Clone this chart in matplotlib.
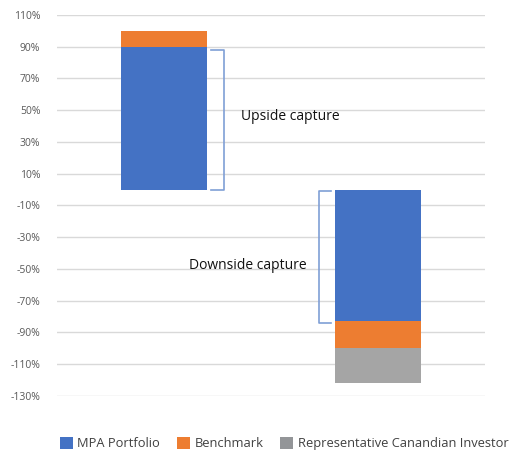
import numpy as np
import matplotlib
matplotlib.use("Agg")
import matplotlib.pyplot as plt
from matplotlib.patches import Patch

plt.rcParams['font.family'] = ['Open Sans', 'DejaVu Sans']

categories = ["Upside", "Downside"]
mpa = [90, -83]
benchmark = [100, -100]
rep_investor = [np.nan, -122]
series_names = ["MPA Portfolio", "Benchmark", "Representative Canandian Investor"]
colors = ["#4472C4", "#ED7D31", "#A5A5A5"]
yticks = list(range(-130, 111, 20))

fig = plt.figure(figsize=(5.11, 4.5), dpi=100)
ax = fig.add_axes([0.1115, 0.12, 0.8376, 0.8467])

x = np.arange(len(categories))
w = 0.40
ax.bar(x, rep_investor, w, color=colors[2], zorder=2)
ax.bar(x, benchmark, w, color=colors[1], zorder=3)
ax.bar(x, mpa, w, color=colors[0], zorder=4)

ax.set_xlim(-0.5, 1.5)
ax.set_ylim(-130, 110)
ax.set_yticks(yticks)
ax.set_yticklabels([f"{t}%" for t in yticks], color="#595959", fontsize=7.5)
ax.tick_params(axis='y', length=0, pad=12)
ax.set_xticks([])
for s in ax.spines.values():
    s.set_visible(False)
ax.grid(axis='y', color="#D9D9D9", linewidth=1, zorder=0)

bc = "#7F9FD6"
# Upside bracket
ax.plot([0.22, 0.28, 0.28, 0.22], [88, 88, 0, 0], color=bc, lw=1.2, zorder=5)
ax.text(0.36, 46, "Upside capture", fontsize=10, va='center', ha='left', color="#111111")
# Downside bracket
ax.plot([0.78, 0.724, 0.724, 0.78], [-1, -1, -84, -84], color=bc, lw=1.2, zorder=5)
ax.text(0.665, -48, "Downside capture", fontsize=10, va='center', ha='right', color="#111111")

handles = [Patch(facecolor=c, edgecolor='none') for c in [colors[0], colors[1], "#939598"]]
fig.legend(handles, series_names, loc='lower left', bbox_to_anchor=(58 / 511, -0.005),
           ncol=3, frameon=False, fontsize=9.3, handlelength=1.0, handleheight=1.0,
           columnspacing=1.3, handletextpad=0.35, borderpad=0.15, borderaxespad=0,
           labelcolor="#404040")

fig.savefig("out.png", dpi=100)
